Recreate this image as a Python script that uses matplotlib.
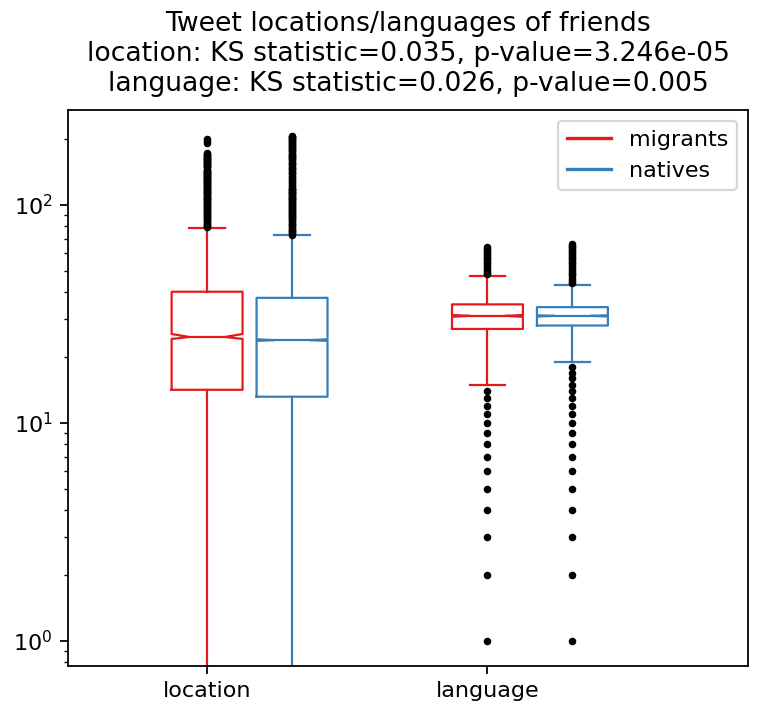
import matplotlib
matplotlib.use("Agg")
import matplotlib.pyplot as plt
from matplotlib.lines import Line2D

groups = ["location", "language"]
series = ["migrants", "natives"]
colors = {"migrants": "#e41a1c", "natives": "#377eb8"}

# box stats: [location, language]
med = {"migrants": [24.8, 31.0], "natives": [24.0, 31.0]}
q1 = {"migrants": [14.2, 27.0], "natives": [13.2, 28.0]}
q3 = {"migrants": [40.0, 35.0], "natives": [37.5, 34.0]}
whislo = {"migrants": [0.1, 15.0], "natives": [0.1, 19.0]}
whishi = {"migrants": [78.5, 47.0], "natives": [72.5, 43.0]}
cilo = {"migrants": [24.3, 30.7], "natives": [23.8, 30.8]}
cihi = {"migrants": [25.6, 31.3], "natives": [24.2, 31.2]}

loc_mig_fliers = [79, 80, 81, 82, 83, 84, 85, 86, 87, 88, 89, 90, 91, 92, 93, 94, 95,
                  96, 97, 98, 99, 100, 101, 102, 103, 104, 105, 106, 107, 108, 109, 110,
                  111, 112, 113, 114, 115, 116, 117, 118, 119, 120, 121, 122, 123, 124,
                  125, 126, 127, 128, 129, 130, 131, 132, 133, 134, 135, 136, 137, 138,
                  139, 140, 141, 142, 143, 144, 145, 149, 150, 151, 152, 153, 155, 156,
                  157, 158, 160, 161, 162, 164, 165, 167, 168, 170, 172, 174, 193, 197, 201]
loc_nat_fliers = [73, 74, 75, 76, 77, 78, 79, 80, 81, 82, 83, 84, 85, 86, 87, 88, 89,
                  90, 91, 92, 93, 94, 95, 96, 97, 98, 99, 100, 101, 102, 103, 104, 105,
                  106, 107, 108, 109, 110, 111, 112, 113, 114, 115, 116, 117, 118, 119,
                  120, 122, 124, 126, 128, 130, 132, 134, 136, 138, 140, 142, 144, 146,
                  148, 150, 152, 154, 156, 158, 160, 162, 164, 166, 168, 170, 172, 174,
                  176, 178, 180, 182, 184, 186, 188, 190, 192, 194, 196, 198, 200, 202,
                  204, 206, 208]
lang_mig_fliers = [1, 2, 3, 4, 5, 6, 7, 8, 9, 10, 11, 12, 13, 14,
                   48, 49, 50, 51, 52, 53, 54, 55, 56, 57, 58, 59, 60, 61, 62, 63, 64]
lang_nat_fliers = [1, 2, 3, 4, 5, 6, 7, 8, 9, 10, 11, 12, 13, 14, 15, 16, 17, 18,
                   44, 45, 46, 47, 48, 49, 50, 51, 52, 53, 54, 55, 56, 57, 58, 59, 60,
                   61, 62, 63, 64, 65, 66]
fliers = {"migrants": [loc_mig_fliers, lang_mig_fliers],
          "natives": [loc_nat_fliers, lang_nat_fliers]}

fig = plt.figure(figsize=(760 / 160, 709 / 160), dpi=160)
ax = fig.add_axes([0.0895, 0.061, 0.895, 0.784])

offsets = {"migrants": 0.0, "natives": 0.303}
for s in series:
    stats = []
    for i in range(len(groups)):
        stats.append({"med": med[s][i], "q1": q1[s][i], "q3": q3[s][i],
                      "whislo": whislo[s][i], "whishi": whishi[s][i],
                      "cilo": cilo[s][i], "cihi": cihi[s][i],
                      "fliers": fliers[s][i]})
    pos = [i + 1 + offsets[s] for i in range(len(groups))]
    c = colors[s]
    ax.bxp(stats, positions=pos, widths=0.253, shownotches=True,
           boxprops=dict(color=c), whiskerprops=dict(color=c),
           capprops=dict(color=c), medianprops=dict(color=c),
           flierprops=dict(marker="o", markerfacecolor="black",
                           markeredgecolor="black", markersize=2.4))

ax.set_yscale("log")
ax.set_ylim(0.77, 273)
ax.set_xlim(0.504, 2.93)
ax.set_xticks([1, 2])
ax.set_xticklabels(groups)

handles = [Line2D([0], [0], color=colors[s]) for s in series]
ax.legend(handles, series, loc="upper right")
ax.set_title("Tweet locations/languages of friends\n"
             "location: KS statistic=0.035, p-value=3.246e-05\n"
             "language: KS statistic=0.026, p-value=0.005", pad=8.5)

fig.savefig("out.png", dpi=160)
